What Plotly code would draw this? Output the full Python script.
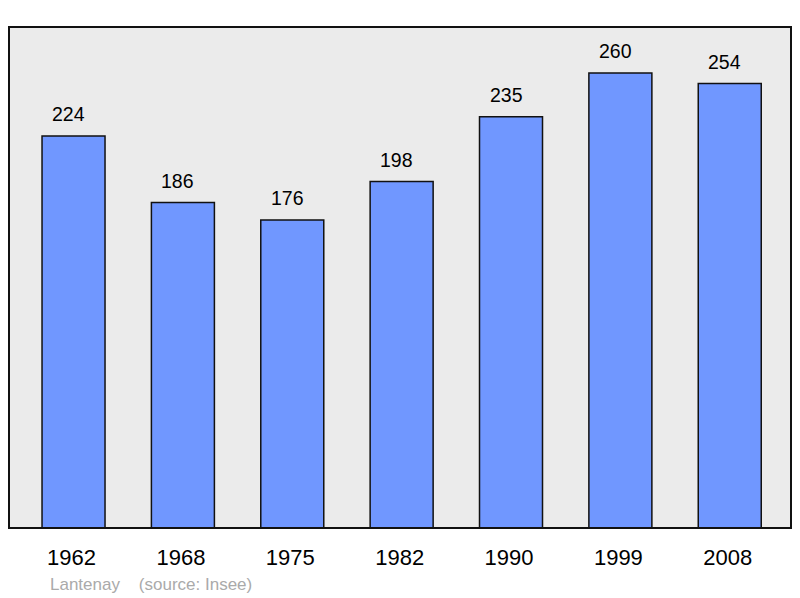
import plotly.graph_objects as go

years = ["1962", "1968", "1975", "1982", "1990", "1999", "2008"]
population = [224, 186, 176, 198, 235, 260, 254]
source_text = "Lantenay&nbsp;&nbsp;&nbsp;&nbsp;(source: Insee)"

FONT = "Liberation Sans, Arial, sans-serif"

fig = go.Figure()
fig.add_trace(go.Bar(
    x=years, y=population,
    width=0.576,
    marker=dict(color="#7097ff", line=dict(color="#111111", width=1.5)),
    hoverinfo="skip",
))

for i, v in enumerate(population):
    fig.add_annotation(x=i, y=v, text=str(v), showarrow=False,
                       yanchor="bottom", yshift=9, xshift=-5,
                       font=dict(family=FONT, size=19.5, color="#000000"))

fig.add_annotation(xref="paper", yref="paper", x=(48 - 9) / 782, y=-(584 - 528) / 501,
                   text=source_text, showarrow=False, xanchor="left", yanchor="middle",
                   font=dict(family=FONT, size=17, color="#aaaaaa"))

# frame
fig.add_shape(type="rect", xref="paper", yref="paper", x0=0, y0=0, x1=1, y1=1,
              line=dict(color="#111111", width=2), layer="above")

fig.update_layout(
    width=800, height=598,
    margin=dict(l=9, r=9, t=27, b=70),
    paper_bgcolor="#ffffff",
    plot_bgcolor="#ebebeb",
    showlegend=False,
    xaxis=dict(type="category", range=[-0.59, 6.56], showgrid=False, zeroline=False,
               showline=False, ticks="outside", ticklen=10, tickcolor="rgba(0,0,0,0)",
               ticklabelshift=-2,
               tickfont=dict(family=FONT, size=22, color="#000000")),
    yaxis=dict(range=[0, 286.3], showgrid=False, zeroline=False, showticklabels=False,
               showline=False),
)

fig.write_html("out.html", config={"displayModeBar": False},
               post_script="document.body.style.margin='0';")
